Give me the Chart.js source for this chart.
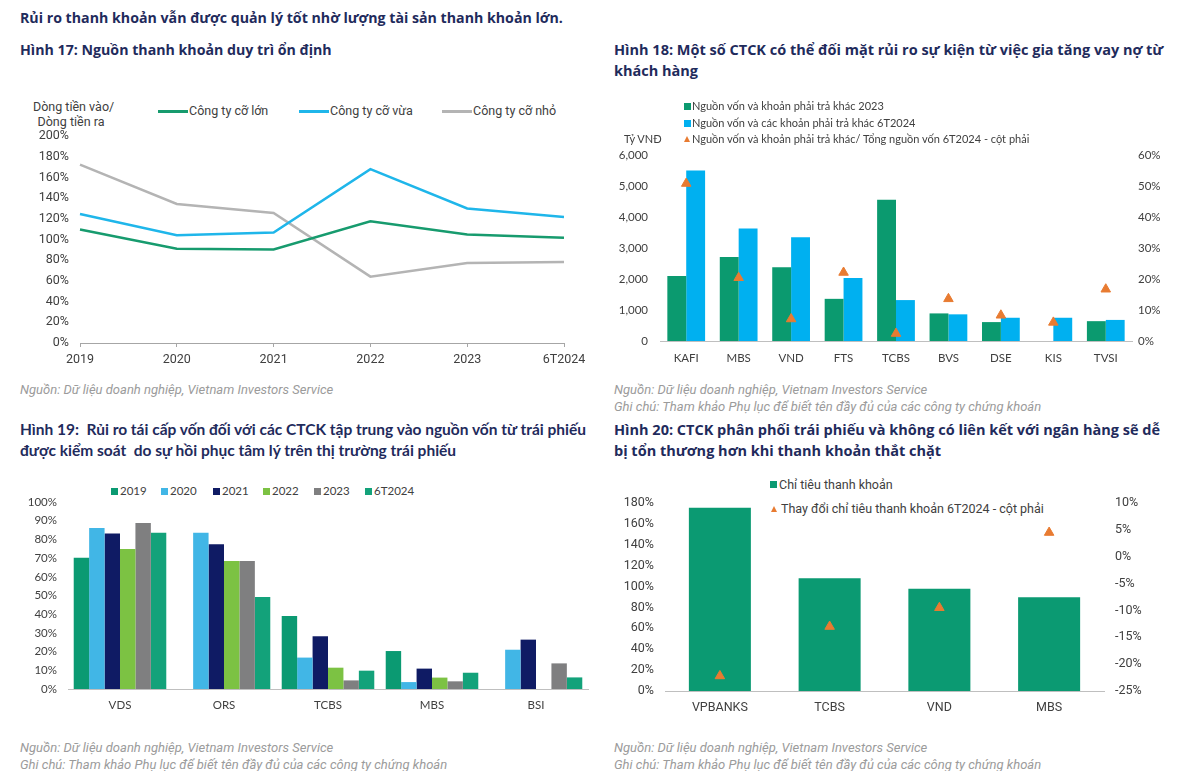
<!DOCTYPE html>
<html lang="vi">
<head>
<meta charset="utf-8">
<script src="https://cdn.jsdelivr.net/npm/chart.js@4.4.1/dist/chart.umd.min.js"></script>
<style>
  body { margin: 0; width: 1200px; height: 771px; background: #fff; position: relative; overflow: hidden; font-family: Roboto, sans-serif; }
  .t { position: absolute; white-space: nowrap; }
  .title { font-family: "Open Sans", sans-serif; font-weight: 700; font-size: 14.5px; line-height: 21px; color: #1f2b5c; }
  .title19 { font-family: Lato, sans-serif; font-weight: 700; font-size: 15.5px; line-height: 21px; color: #1f2b5c; }
  .src { font-style: italic; font-size: 13px; line-height: 16.5px; color: #9b9b9b; }
  .lg { font-size: 12.5px; color: #404040; line-height: 16px; }
  .lgs { font-family: Lato, sans-serif; font-size: 11px; color: #404040; line-height: 14px; }
  .sq { position: absolute; width: 7px; height: 7px; }
  .tri { position: absolute; width: 0; height: 0; border-left: 3.5px solid transparent; border-right: 3.5px solid transparent; border-bottom: 6px solid #e87b31; }
  .ln { position: absolute; height: 2.5px; width: 30px; }
  canvas { position: absolute; }
</style>
</head>
<body>

<div class="t title" style="left:20px;top:7px;font-size:14.2px">Rủi ro thanh khoản vẫn được quản lý tốt nhờ lượng tài sản thanh khoản lớn.</div>

<!-- Hinh 17 -->
<div class="t title" style="left:20px;top:39px;font-size:14.2px">Hình 17: Nguồn thanh khoản duy trì ổn định</div>
<div class="t lg" style="left:33px;top:99px;text-align:center;width:76px;line-height:15px">Dòng tiền vào/<br>Dòng tiền ra</div>
<div class="ln" style="left:158px;top:110px;background:#179b6e"></div>
<div class="t lg" style="left:189px;top:103px">Công ty cỡ lớn</div>
<div class="ln" style="left:299px;top:110px;background:#1fb6ea"></div>
<div class="t lg" style="left:330px;top:103px">Công ty cỡ vừa</div>
<div class="ln" style="left:442px;top:110px;background:#b4b4b4"></div>
<div class="t lg" style="left:473px;top:103px">Công ty cỡ nhỏ</div>
<canvas id="c17" width="590" height="243" style="left:20px;top:130px"></canvas>
<div class="t src" style="left:20px;top:382px">Nguồn: Dữ liệu doanh nghiệp, Vietnam Investors Service</div>

<!-- Hinh 18 -->
<div class="t title" style="left:614px;top:39px">Hình 18: Một số CTCK có thể đối mặt rủi ro sự kiện từ việc gia tăng vay nợ từ<br>khách hàng</div>
<div class="sq" style="left:684px;top:103px;background:#0b9a6f"></div>
<div class="t lgs" style="left:692px;top:99px">Nguồn vốn và khoản phải trả khác 2023</div>
<div class="sq" style="left:684px;top:120px;background:#00b0f0"></div>
<div class="t lgs" style="left:692px;top:116px">Nguồn vốn và các khoản phải trả khác 6T2024</div>
<div class="tri" style="left:684px;top:136px"></div>
<div class="t lgs" style="left:692px;top:132px">Nguồn vốn và khoản phải trả khác/ Tổng nguồn vốn 6T2024 - cột phải</div>
<div class="t lgs" style="left:624px;top:132px">Tỷ VNĐ</div>
<canvas id="c18" width="572" height="221" style="left:600px;top:148px"></canvas>
<div class="t src" style="left:614px;top:382px">Nguồn: Dữ liệu doanh nghiệp, Vietnam Investors Service<br>Ghi chú: Tham khảo Phụ lục để biết tên đầy đủ của các công ty chứng khoán</div>

<!-- Hinh 19 -->
<div class="t title19" style="left:20px;top:419px">Hình 19:&nbsp; Rủi ro tái cấp vốn đối với các CTCK tập trung vào nguồn vốn từ trái phiếu<br>được kiểm soát&nbsp; do sự hồi phục tâm lý trên thị trường trái phiếu</div>
<div id="lg19"></div>
<canvas id="c19" width="590" height="222" style="left:10px;top:495px"></canvas>
<div class="t src" style="left:20px;top:740px">Nguồn: Dữ liệu doanh nghiệp, Vietnam Investors Service<br>Ghi chú: Tham khảo Phụ lục để biết tên đầy đủ của các công ty chứng khoán</div>

<!-- Hinh 20 -->
<div class="t title" style="left:614px;top:419px">Hình 20: CTCK phân phối trái phiếu và không có liên kết với ngân hàng sẽ dễ<br>bị tổn thương hơn khi thanh khoản thắt chặt</div>
<div class="sq" style="left:770px;top:481px;background:#0b9a72"></div>
<div class="t lg" style="left:779px;top:477px">Chỉ tiêu thanh khoản</div>
<div class="tri" style="left:771px;top:506px"></div>
<div class="t lg" style="left:781px;top:501px">Thay đổi chỉ tiêu thanh khoản 6T2024 - cột phải</div>
<canvas id="c20" width="554" height="224" style="left:600px;top:495px"></canvas>
<div class="t src" style="left:614px;top:740px">Nguồn: Dữ liệu doanh nghiệp, Vietnam Investors Service<br>Ghi chú: Tham khảo Phụ lục để biết tên đầy đủ của các công ty chứng khoán</div>

<script>
// Hinh 17 - dong tien vao / dong tien ra (%)
const years = ["2019", "2020", "2021", "2022", "2023", "6T2024"];
const bigCo = [109.6, 91, 90.4, 117.6, 104.8, 101.6];
const midCo = [124.7, 104.2, 106.7, 168, 130, 121.8];
const smallCo = [172.4, 134.3, 125.6, 64.1, 77.2, 78.2];

// Hinh 18 - ty VND, ty le % cot phai
const firms18 = ["KAFI", "MBS", "VND", "FTS", "TCBS", "BVS", "DSE", "KIS", "TVSI"];
const payables2023 = [2100, 2710, 2380, 1360, 4560, 890, 610, null, 640];
const payables6T2024 = [5500, 3630, 3350, 2030, 1320, 860, 750, 750, 680];
const payablesRatio = [50.8, 20.4, 7.1, 22.1, 2.4, 13.6, 8.3, 6.0, 16.7];

// Hinh 19 - ty trong von trai phieu (%)
const firms19 = ["VDS", "ORS", "TCBS", "MBS", "BSI"];
const periods19 = ["2019", "2020", "2021", "2022", "2023", "6T2024"];
const bond2019 = [70.2, null, 39, 20.3, null];
const bond2020 = [86.1, 83.6, 16.8, 3.7, 21];
const bond2021 = [83.2, 77.4, 28.2, 10.9, 26.4];
const bond2022 = [74.9, 68.4, 11.4, 6.1, null];
const bond2023 = [88.8, 68.4, 4.6, 4.1, 13.7];
const bond6T2024 = [83.6, 49.2, 9.8, 8.7, 6.2];
const colors19 = ["#0b9a72", "#41b6e6", "#0f1b64", "#7cc243", "#7f7f80", "#13a27a"];

// Hinh 20
const firms20 = ["VPBANKS", "TCBS", "VND", "MBS"];
const liquidity = [175.5, 108, 97.8, 89.8];
const liquidityChange = [-22.2, -13.0, -9.5, 4.5];

Chart.defaults.animation = false;
Chart.defaults.plugins.legend.display = false;
Chart.defaults.plugins.tooltip.enabled = false;
Chart.defaults.color = "#404040";

// fixed axis size, and no extra label padding so layout.padding decides the plot edges
function fixWidth(w) { return function (s) { s.width = w; s.paddingTop = 0; s.paddingBottom = 0; }; }
function fixHeight(h) { return function (s) { s.height = h; }; }
const pct = v => v + "%";
const roboto = { family: "Roboto", size: 12.5 };
const lato = { family: "Lato", size: 11.5 };

// Hinh 17
function lineSet(data, color) {
  return { data: data, borderColor: color, borderWidth: 2.5, pointRadius: 0, tension: 0, fill: false };
}
new Chart(document.getElementById("c17"), {
  type: "line",
  data: { labels: years, datasets: [lineSet(bigCo, "#179b6e"), lineSet(midCo, "#1fb6ea"), lineSet(smallCo, "#b4b4b4")] },
  options: {
    responsive: false,
    layout: { padding: { top: 6, right: 46, left: 0, bottom: 0 } },
    scales: {
      x: {
        grid: { drawOnChartArea: false, tickLength: 4, color: "#a6a6a6" },
        border: { color: "#a6a6a6" },
        ticks: { font: roboto, padding: 5, maxRotation: 0 },
        afterFit: fixHeight(30)
      },
      y: {
        min: 0, max: 200,
        grid: { display: false, drawTicks: false },
        border: { display: false },
        ticks: { stepSize: 20, font: roboto, padding: 11, callback: pct },
        afterFit: fixWidth(60)
      }
    }
  }
});

// Hinh 18
new Chart(document.getElementById("c18"), {
  type: "bar",
  data: {
    labels: firms18,
    datasets: [
      { type: "line", data: payablesRatio, yAxisID: "y1", showLine: false, pointStyle: "triangle", pointRadius: 5.5, backgroundColor: "#e87b31", borderColor: "#e87b31", order: 0 },
      { data: payables2023, backgroundColor: "#0b9a6f", order: 1 },
      { data: payables6T2024, backgroundColor: "#00b0f0", order: 1 }
    ]
  },
  options: {
    responsive: false,
    layout: { padding: { top: 7, right: 0, left: 0, bottom: 0 } },
    datasets: { bar: { categoryPercentage: 0.72, barPercentage: 1.0 } },
    scales: {
      x: {
        grid: { display: false, drawTicks: false },
        border: { color: "#bfbfbf" },
        ticks: { font: lato, padding: 10 },
        afterFit: fixHeight(28)
      },
      y: {
        min: 0, max: 6000,
        grid: { display: false, drawTicks: false },
        border: { display: false },
        ticks: { stepSize: 1000, font: lato, padding: 12, callback: v => v.toLocaleString("en-US") },
        afterFit: fixWidth(60)
      },
      y1: {
        position: "right", min: 0, max: 60,
        grid: { display: false, drawTicks: false },
        border: { display: false },
        ticks: { stepSize: 10, font: lato, padding: 6, callback: pct },
        afterFit: fixWidth(40)
      }
    }
  }
});

// Hinh 19
const bondSeries = [bond2019, bond2020, bond2021, bond2022, bond2023, bond6T2024];
const lgX = [111, 161, 213, 263, 314, 365];
let lgHtml = "";
periods19.forEach(function (p, i) {
  lgHtml += '<div class="sq" style="left:' + lgX[i] + 'px;top:488px;background:' + colors19[i] + '"></div>' +
    '<div class="t lgs" style="left:' + (lgX[i] + 9) + 'px;top:484px;font-size:11.5px">' + p + '</div>';
});
document.getElementById("lg19").innerHTML = lgHtml;

new Chart(document.getElementById("c19"), {
  type: "bar",
  data: {
    labels: firms19,
    datasets: bondSeries.map((d, i) => ({ label: periods19[i], data: d, backgroundColor: colors19[i] }))
  },
  options: {
    responsive: false,
    layout: { padding: { top: 7, right: 12, left: 0, bottom: 0 } },
    datasets: { bar: { categoryPercentage: 0.89, barPercentage: 1.0 } },
    scales: {
      x: {
        grid: { display: false, drawTicks: false },
        border: { color: "#bfbfbf" },
        ticks: { font: lato, padding: 9 },
        afterFit: fixHeight(28)
      },
      y: {
        min: 0, max: 100,
        grid: { display: false, drawTicks: false },
        border: { display: false },
        ticks: { stepSize: 10, font: lato, padding: 11, callback: pct },
        afterFit: fixWidth(58)
      }
    }
  }
});

// Hinh 20
new Chart(document.getElementById("c20"), {
  type: "bar",
  data: {
    labels: firms20,
    datasets: [
      { type: "line", data: liquidityChange, yAxisID: "y1", showLine: false, pointStyle: "triangle", pointRadius: 5.5, backgroundColor: "#e87b31", borderColor: "#e87b31", order: 0 },
      { data: liquidity, backgroundColor: "#0b9a72", order: 1 }
    ]
  },
  options: {
    responsive: false,
    layout: { padding: { top: 8, right: 0, left: 0, bottom: 0 } },
    datasets: { bar: { categoryPercentage: 0.565, barPercentage: 1.0 } },
    scales: {
      x: {
        grid: { display: false, drawTicks: false },
        border: { color: "#bfbfbf" },
        ticks: { font: roboto, padding: 9 },
        afterFit: fixHeight(28)
      },
      y: {
        min: 0, max: 180,
        grid: { display: false, drawTicks: false },
        border: { display: false },
        ticks: { stepSize: 20, font: roboto, padding: 11, callback: pct },
        afterFit: fixWidth(65)
      },
      y1: {
        position: "right", min: -25, max: 10,
        grid: { display: false, drawTicks: false },
        border: { display: false },
        ticks: { stepSize: 5, font: roboto, padding: 11, callback: pct },
        afterFit: fixWidth(50)
      }
    }
  }
});
</script>
</body>
</html>
